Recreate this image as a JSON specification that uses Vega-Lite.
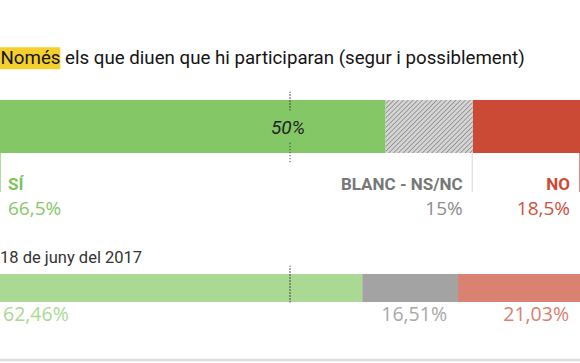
{
  "$schema": "https://vega.github.io/schema/vega-lite/v6.json",
  "width": 580,
  "height": 363,
  "autosize": {"type": "fit", "contains": "padding"},
  "padding": 0,
  "background": "white",
  "config": {"view": {"stroke": null}, "axis": {"disable": true}, "text": {"font": "Roboto"}},
  "data": {"values": [
    {"wave": "now", "survey": "Només els que diuen que hi participaran (segur i possiblement)", "cat": "SÍ", "ord": 1, "pct": 66.5, "label": "66,5%"},
    {"wave": "now", "survey": "Només els que diuen que hi participaran (segur i possiblement)", "cat": "BLANC - NS/NC", "ord": 2, "pct": 15, "label": "15%"},
    {"wave": "now", "survey": "Només els que diuen que hi participaran (segur i possiblement)", "cat": "NO", "ord": 3, "pct": 18.5, "label": "18,5%"},
    {"wave": "2017", "survey": "18 de juny del 2017", "cat": "SÍ", "ord": 1, "pct": 62.46, "label": "62,46%"},
    {"wave": "2017", "survey": "18 de juny del 2017", "cat": "BLANC - NS/NC", "ord": 2, "pct": 16.51, "label": "16,51%"},
    {"wave": "2017", "survey": "18 de juny del 2017", "cat": "NO", "ord": 3, "pct": 21.03, "label": "21,03%"}
  ]},
  "transform": [
    {"stack": "pct", "groupby": ["wave"], "sort": [{"field": "ord", "order": "ascending"}], "as": ["x0", "x1"]}
  ],
  "encoding": {
    "y": {"field": "survey", "type": "nominal", "axis": null,
      "scale": {"domain": ["Només els que diuen que hi participaran (segur i possiblement)", "18 de juny del 2017"], "range": [45.75, 368.75], "paddingInner": 0, "paddingOuter": 0}}
  },
  "layer": [
    {
      "transform": [{"filter": "datum.wave == 'now' && datum.ord == 1"}],
      "mark": {"type": "bar", "height": 22, "yOffset": -68.2, "color": "#f4cf2e"},
      "encoding": {
        "x": {"datum": 0, "type": "quantitative", "scale": {"domain": [0, 100]}, "axis": null},
        "x2": {"datum": 10.4}
      }
    },
    {
      "transform": [{"filter": "datum.wave == 'now' && datum.ord == 1"}],
      "mark": {"type": "text", "align": "left", "baseline": "middle", "dy": -68.5, "dx": 0.5, "fontSize": 18.7, "color": "#141414"},
      "encoding": {
        "x": {"datum": 0, "type": "quantitative"},
        "text": {"field": "survey"}
      }
    },
    {
      "transform": [{"filter": "datum.wave == 'now'"}],
      "mark": {"type": "bar", "height": 53},
      "encoding": {
        "x": {"field": "x0", "type": "quantitative", "scale": {"domain": [0, 100]}, "axis": null},
        "x2": {"field": "x1"},
        "color": {"field": "cat", "type": "nominal", "legend": null,
          "scale": {"domain": ["SÍ", "BLANC - NS/NC", "NO"], "range": ["#84c767", "#d5d5d5", "#cb4a36"]}}
      }
    },
    {
      "transform": [{"filter": "datum.wave == 'now' && datum.ord == 2"}],
      "mark": {"type": "bar", "height": 53, "fill": {
        "gradient": "linear", "x1": 0, "y1": 0, "x2": 1.2, "y2": 0.731,
        "stops": [
          {"offset": 0, "color": "#d5d5d5"}, {"offset": 0.0167, "color": "#d5d5d5"}, {"offset": 0.025, "color": "#8f8f8f"},
          {"offset": 0.0333, "color": "#d5d5d5"}, {"offset": 0.05, "color": "#d5d5d5"}, {"offset": 0.0583, "color": "#8f8f8f"},
          {"offset": 0.0667, "color": "#d5d5d5"}, {"offset": 0.0833, "color": "#d5d5d5"}, {"offset": 0.0917, "color": "#8f8f8f"},
          {"offset": 0.1, "color": "#d5d5d5"}, {"offset": 0.1167, "color": "#d5d5d5"}, {"offset": 0.125, "color": "#8f8f8f"},
          {"offset": 0.1333, "color": "#d5d5d5"}, {"offset": 0.15, "color": "#d5d5d5"}, {"offset": 0.1583, "color": "#8f8f8f"},
          {"offset": 0.1667, "color": "#d5d5d5"}, {"offset": 0.1833, "color": "#d5d5d5"}, {"offset": 0.1917, "color": "#8f8f8f"},
          {"offset": 0.2, "color": "#d5d5d5"}, {"offset": 0.2167, "color": "#d5d5d5"}, {"offset": 0.225, "color": "#8f8f8f"},
          {"offset": 0.2333, "color": "#d5d5d5"}, {"offset": 0.25, "color": "#d5d5d5"}, {"offset": 0.2583, "color": "#8f8f8f"},
          {"offset": 0.2667, "color": "#d5d5d5"}, {"offset": 0.2833, "color": "#d5d5d5"}, {"offset": 0.2917, "color": "#8f8f8f"},
          {"offset": 0.3, "color": "#d5d5d5"}, {"offset": 0.3167, "color": "#d5d5d5"}, {"offset": 0.325, "color": "#8f8f8f"},
          {"offset": 0.3333, "color": "#d5d5d5"}, {"offset": 0.35, "color": "#d5d5d5"}, {"offset": 0.3583, "color": "#8f8f8f"},
          {"offset": 0.3667, "color": "#d5d5d5"}, {"offset": 0.3833, "color": "#d5d5d5"}, {"offset": 0.3917, "color": "#8f8f8f"},
          {"offset": 0.4, "color": "#d5d5d5"}, {"offset": 0.4167, "color": "#d5d5d5"}, {"offset": 0.425, "color": "#8f8f8f"},
          {"offset": 0.4333, "color": "#d5d5d5"}, {"offset": 0.45, "color": "#d5d5d5"}, {"offset": 0.4583, "color": "#8f8f8f"},
          {"offset": 0.4667, "color": "#d5d5d5"}, {"offset": 0.4833, "color": "#d5d5d5"}, {"offset": 0.4917, "color": "#8f8f8f"},
          {"offset": 0.5, "color": "#d5d5d5"}, {"offset": 0.5167, "color": "#d5d5d5"}, {"offset": 0.525, "color": "#8f8f8f"},
          {"offset": 0.5333, "color": "#d5d5d5"}, {"offset": 0.55, "color": "#d5d5d5"}, {"offset": 0.5583, "color": "#8f8f8f"},
          {"offset": 0.5667, "color": "#d5d5d5"}, {"offset": 0.5833, "color": "#d5d5d5"}, {"offset": 0.5917, "color": "#8f8f8f"},
          {"offset": 0.6, "color": "#d5d5d5"}, {"offset": 0.6167, "color": "#d5d5d5"}, {"offset": 0.625, "color": "#8f8f8f"},
          {"offset": 0.6333, "color": "#d5d5d5"}, {"offset": 0.65, "color": "#d5d5d5"}, {"offset": 0.6583, "color": "#8f8f8f"},
          {"offset": 0.6667, "color": "#d5d5d5"}, {"offset": 0.6833, "color": "#d5d5d5"}, {"offset": 0.6917, "color": "#8f8f8f"},
          {"offset": 0.7, "color": "#d5d5d5"}, {"offset": 0.7167, "color": "#d5d5d5"}, {"offset": 0.725, "color": "#8f8f8f"},
          {"offset": 0.7333, "color": "#d5d5d5"}, {"offset": 0.75, "color": "#d5d5d5"}, {"offset": 0.7583, "color": "#8f8f8f"},
          {"offset": 0.7667, "color": "#d5d5d5"}, {"offset": 0.7833, "color": "#d5d5d5"}, {"offset": 0.7917, "color": "#8f8f8f"},
          {"offset": 0.8, "color": "#d5d5d5"}, {"offset": 0.8167, "color": "#d5d5d5"}, {"offset": 0.825, "color": "#8f8f8f"},
          {"offset": 0.8333, "color": "#d5d5d5"}, {"offset": 0.85, "color": "#d5d5d5"}, {"offset": 0.8583, "color": "#8f8f8f"},
          {"offset": 0.8667, "color": "#d5d5d5"}, {"offset": 0.8833, "color": "#d5d5d5"}, {"offset": 0.8917, "color": "#8f8f8f"},
          {"offset": 0.9, "color": "#d5d5d5"}, {"offset": 0.9167, "color": "#d5d5d5"}, {"offset": 0.925, "color": "#8f8f8f"},
          {"offset": 0.9333, "color": "#d5d5d5"}, {"offset": 0.95, "color": "#d5d5d5"}, {"offset": 0.9583, "color": "#8f8f8f"},
          {"offset": 0.9667, "color": "#d5d5d5"}, {"offset": 0.9833, "color": "#d5d5d5"}, {"offset": 0.9917, "color": "#8f8f8f"},
          {"offset": 1, "color": "#d5d5d5"}
        ]}},
      "encoding": {
        "x": {"field": "x0", "type": "quantitative"},
        "x2": {"field": "x1"}
      }
    },
    {
      "transform": [{"filter": "datum.wave == '2017'"}],
      "mark": {"type": "bar", "height": 28},
      "encoding": {
        "x": {"field": "x0", "type": "quantitative"},
        "x2": {"field": "x1"},
        "color": {"field": "cat", "type": "nominal", "legend": null,
          "scale": {"domain": ["SÍ", "BLANC - NS/NC", "NO"], "range": ["#a9d992", "#a3a3a3", "#da8272"]}}
      }
    },
    {
      "transform": [{"filter": "datum.wave == '2017' && datum.ord == 1"}],
      "mark": {"type": "bar", "height": 2.5, "yOffset": 72, "color": "#dcdcdc"},
      "encoding": {
        "x": {"datum": 0, "type": "quantitative"},
        "x2": {"datum": 100}
      }
    },
    {
      "transform": [{"filter": "datum.wave == 'now' && datum.ord == 1"}],
      "mark": {"type": "tick", "orient": "vertical", "size": 18, "yOffset": -25.5, "thickness": 0.1, "filled": false, "stroke": "#333333", "strokeWidth": 1.2, "strokeDash": [1.2, 1.8]},
      "encoding": {"x": {"datum": 50, "type": "quantitative"}}
    },
    {
      "transform": [{"filter": "datum.wave == 'now' && datum.ord == 1"}],
      "mark": {"type": "tick", "orient": "vertical", "size": 20, "yOffset": 26.5, "thickness": 0.1, "filled": false, "stroke": "#333333", "strokeWidth": 1.2, "strokeDash": [1.2, 1.8]},
      "encoding": {"x": {"datum": 50, "type": "quantitative"}}
    },
    {
      "transform": [{"filter": "datum.wave == '2017' && datum.ord == 1"}],
      "mark": {"type": "tick", "orient": "vertical", "size": 36, "yOffset": -4, "thickness": 0.1, "filled": false, "stroke": "#333333", "strokeWidth": 1.2, "strokeDash": [1.2, 1.8]},
      "encoding": {"x": {"datum": 50, "type": "quantitative"}}
    },
    {
      "transform": [{"filter": "datum.wave == 'now' && datum.ord == 1"}],
      "mark": {"type": "text", "text": "50%", "align": "center", "baseline": "middle", "dy": 1.5, "dx": -2, "fontSize": 19, "fontStyle": "italic", "color": "#222222"},
      "encoding": {"x": {"datum": 50, "type": "quantitative"}}
    },
    {
      "transform": [{"filter": "datum.wave == 'now' && datum.ord == 1"}],
      "mark": {"type": "tick", "orient": "vertical", "size": 39, "yOffset": 46, "thickness": 1, "xOffset": 0.5, "color": "#8fce73"},
      "encoding": {"x": {"field": "x0", "type": "quantitative"}}
    },
    {
      "transform": [{"filter": "datum.wave == 'now' && datum.ord > 1"}],
      "mark": {"type": "tick", "orient": "vertical", "size": 39, "yOffset": 46, "thickness": 1, "xOffset": -0.5},
      "encoding": {
        "x": {"field": "x1", "type": "quantitative"},
        "color": {"field": "cat", "type": "nominal", "legend": null,
          "scale": {"domain": ["BLANC - NS/NC", "NO"], "range": ["#c4c4c4", "#d55a45"]}}
      }
    },
    {
      "transform": [{"filter": "datum.wave == 'now' && datum.ord == 1"}],
      "mark": {"type": "text", "align": "left", "baseline": "middle", "dx": 8, "dy": 58.5, "fontSize": 17, "fontWeight": "bold", "color": "#7dc35f"},
      "encoding": {"x": {"field": "x0", "type": "quantitative"}, "text": {"field": "cat"}}
    },
    {
      "transform": [{"filter": "datum.wave == 'now' && datum.ord == 1"}],
      "mark": {"type": "text", "align": "left", "baseline": "middle", "dx": 8, "dy": 82.5, "fontSize": 19, "font": "Open Sans", "color": "#85c866"},
      "encoding": {"x": {"field": "x0", "type": "quantitative"}, "text": {"field": "label"}}
    },
    {
      "transform": [{"filter": "datum.wave == 'now' && datum.ord > 1"}],
      "mark": {"type": "text", "align": "right", "baseline": "middle", "dx": -10, "dy": 58.5, "fontSize": 17, "fontWeight": "bold"},
      "encoding": {
        "x": {"field": "x1", "type": "quantitative"},
        "text": {"field": "cat"},
        "color": {"field": "cat", "type": "nominal", "legend": null,
          "scale": {"domain": ["BLANC - NS/NC", "NO"], "range": ["#777777", "#cc4a35"]}}
      }
    },
    {
      "transform": [{"filter": "datum.wave == 'now' && datum.ord > 1"}],
      "mark": {"type": "text", "align": "right", "baseline": "middle", "dx": -10, "dy": 82.5, "fontSize": 19, "font": "Open Sans"},
      "encoding": {
        "x": {"field": "x1", "type": "quantitative"},
        "text": {"field": "label"},
        "color": {"field": "cat", "type": "nominal", "legend": null,
          "scale": {"domain": ["BLANC - NS/NC", "NO"], "range": ["#8c8c8c", "#d05040"]}}
      }
    },
    {
      "transform": [{"filter": "datum.wave == '2017' && datum.ord == 1"}],
      "mark": {"type": "text", "align": "left", "baseline": "middle", "dy": -30, "dx": 0, "fontSize": 16.5, "color": "#333333"},
      "encoding": {"x": {"datum": 0, "type": "quantitative"}, "text": {"field": "survey"}}
    },
    {
      "transform": [{"filter": "datum.wave == '2017' && datum.ord == 1"}],
      "mark": {"type": "text", "align": "left", "baseline": "middle", "dx": 3, "dy": 27, "fontSize": 19.5, "font": "Open Sans", "color": "#a9d992"},
      "encoding": {"x": {"field": "x0", "type": "quantitative"}, "text": {"field": "label"}}
    },
    {
      "transform": [{"filter": "datum.wave == '2017' && datum.ord > 1"}],
      "mark": {"type": "text", "align": "right", "baseline": "middle", "dx": -11, "dy": 27, "fontSize": 19.5, "font": "Open Sans"},
      "encoding": {
        "x": {"field": "x1", "type": "quantitative"},
        "text": {"field": "label"},
        "color": {"field": "cat", "type": "nominal", "legend": null,
          "scale": {"domain": ["BLANC - NS/NC", "NO"], "range": ["#a8a8a8", "#da8070"]}}
      }
    }
  ],
  "resolve": {"scale": {"color": "independent"}}
}
